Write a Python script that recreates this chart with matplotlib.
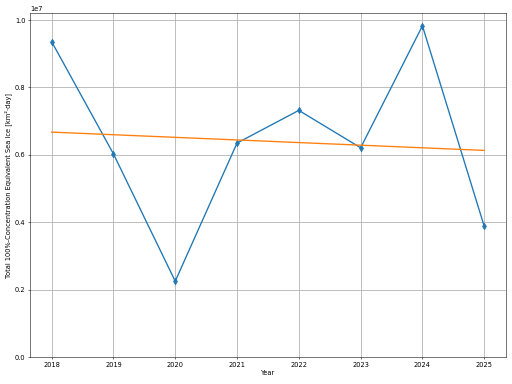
import numpy as np
import matplotlib
matplotlib.use("Agg")
import matplotlib.pyplot as plt

years = [2018, 2019, 2020, 2021, 2022, 2023, 2024, 2025]
sea_ice = [9.36e6, 6.03e6, 2.25e6, 6.35e6, 7.32e6, 6.21e6, 9.83e6, 3.88e6]

# linear trend over the years
coef = np.polyfit(years, sea_ice, 1)
trend = np.polyval(coef, years)

fig, ax = plt.subplots(figsize=(512 / 48, 8), dpi=48)
ax.plot(years, sea_ice, marker="d", markersize=7, linewidth=2)
ax.plot(years, trend, linewidth=2)
ax.set_ylim(bottom=0)
ax.set_xlabel("Year")
ax.set_ylabel("Total 100%-Concentration Equivalent Sea Ice [km²·day]")
ax.grid(True, linewidth=1.2)
fig.subplots_adjust(left=0.0586, right=0.988, bottom=0.0703, top=0.966)
fig.savefig("out.png", dpi=48)
